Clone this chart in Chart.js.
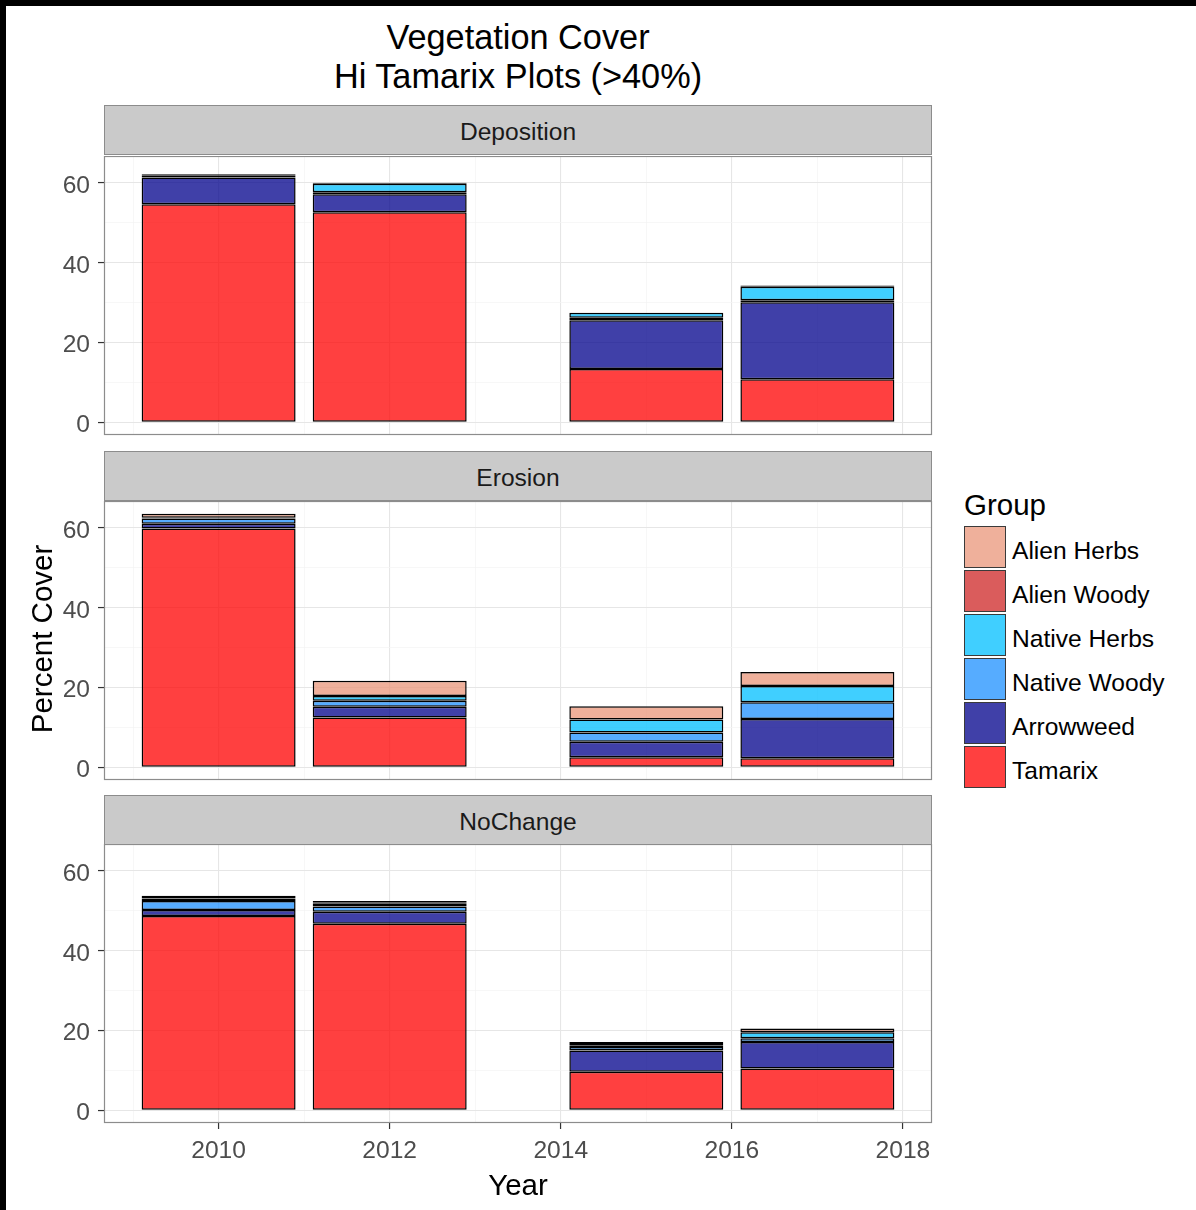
<!DOCTYPE html>
<html><head><meta charset="utf-8">
<script src="https://cdn.jsdelivr.net/npm/chart.js@4.4.0/dist/chart.umd.min.js"></script>
<style>
html,body{margin:0;padding:0;background:#fff;}
body{width:1196px;height:1210px;position:relative;overflow:hidden;font-family:"Liberation Sans",Arial,sans-serif;}
.abs{position:absolute;}
.strip{position:absolute;left:104px;width:826px;height:48px;background:#CACACA;border:1px solid #8C8C8C;color:#1A1A1A;font-size:24.6px;line-height:52px;text-align:center;}
.title{position:absolute;left:104px;width:828px;text-align:center;font-size:34.3px;color:#000;line-height:40px;}
canvas{position:absolute;left:0;}
.lkey{position:absolute;left:964px;width:40px;height:40px;border:1.5px solid #3a3a3a;}
.llab{position:absolute;left:1012px;font-size:24.6px;color:#000;line-height:30px;}
</style></head><body>
<div class="abs" style="left:0;top:0;width:1196px;height:6px;background:#000"></div>
<div class="abs" style="left:0;top:0;width:6px;height:1210px;background:#000"></div>

<div class="title" style="top:17px">Vegetation Cover</div>
<div class="title" style="top:56px">Hi Tamarix Plots (&gt;40%)</div>

<canvas id="c0" width="940" height="281" style="top:156px"></canvas>
<canvas id="c1" width="940" height="281" style="top:501px"></canvas>
<canvas id="c2" width="940" height="329" style="top:844px"></canvas>

<div id="strips"></div>
<div id="legend"></div>

<div class="abs" style="left:0;top:1168px;width:1036px;text-align:center;font-size:29.5px;line-height:34px;color:#000">Year</div>
<div class="abs" style="left:42px;top:639px;width:0;height:0;">
  <div style="position:absolute;left:-150px;top:-17px;width:300px;text-align:center;font-size:29.5px;line-height:34px;color:#000;transform:rotate(-90deg);">Percent Cover</div>
</div>

<script>
// ---- data ----
const years = [2010, 2012, 2015, 2017];
const groups = ['Tamarix', 'Arrowweed', 'Native Woody', 'Native Herbs', 'Alien Woody', 'Alien Herbs'];
const facets = ['Deposition', 'Erosion', 'NoChange'];

// Deposition
const depTamarix     = [54.7, 52.7, 13.4, 10.8];
const depArrowweed   = [6.7, 4.5, 12.2, 19.3];
const depNativeWoody = [0.4, 0.5, 0.6, 0.5];
const depNativeHerbs = [0.4, 2.1, 1.3, 3.4];
const depAlienWoody  = [0, 0, 0, 0];
const depAlienHerbs  = [0, 0.3, 0, 0.3];

// Erosion
const eroTamarix     = [59.9, 12.5, 2.5, 2.3];
const eroArrowweed   = [1.2, 2.7, 3.9, 9.8];
const eroNativeWoody = [1.3, 1.5, 2.3, 4.2];
const eroNativeHerbs = [0.2, 1.2, 3.3, 4.1];
const eroAlienWoody  = [0, 0, 0, 0];
const eroAlienHerbs  = [1.0, 3.8, 3.3, 3.5];

// NoChange
const ncTamarix     = [48.7, 46.8, 9.7, 10.5];
const ncArrowweed   = [1.5, 3.0, 5.3, 6.6];
const ncNativeWoody = [2.3, 1.3, 0.9, 1.0];
const ncNativeHerbs = [0.6, 0.7, 0.4, 1.5];
const ncAlienWoody  = [0, 0.4, 0.3, 0];
const ncAlienHerbs  = [0.7, 0.3, 0.5, 0.9];

const xMajorTicks = [2010, 2012, 2014, 2016, 2018];
const xMinorTicks = [2009, 2011, 2013, 2015, 2017];
const yMajorTicks = [0, 20, 40, 60];
const yMinorTicks = [10, 30, 50];

// ---- styles ----
const groupFills = [
  'rgba(255,0,0,0.75)',
  'rgba(0,0,139,0.75)',
  'rgba(30,144,255,0.75)',
  'rgba(0,191,255,0.75)',
  'rgba(205,38,38,0.75)',
  'rgba(233,150,122,0.75)'
];

const facetData = [
  [depTamarix, depArrowweed, depNativeWoody, depNativeHerbs, depAlienWoody, depAlienHerbs],
  [eroTamarix, eroArrowweed, eroNativeWoody, eroNativeHerbs, eroAlienWoody, eroAlienHerbs],
  [ncTamarix, ncArrowweed, ncNativeWoody, ncNativeHerbs, ncAlienWoody, ncAlienHerbs]
];

// shared scale limits (ggplot-style 5% expansion)
let maxTotal = 0;
facetData.forEach(f => years.forEach((y, j) => {
  const s = f.reduce((a, arr) => a + arr[j], 0);
  if (s > maxTotal) maxTotal = s;
}));
const yMin = -0.05 * maxTotal, yMax = 1.05 * maxTotal;
const barHalf = 0.9;
const xLo = years[0] - barHalf, xHi = years[years.length - 1] + barHalf;
const xMin = xLo - 0.05 * (xHi - xLo), xMax = xHi + 0.05 * (xHi - xLo);

const panelBorder = {
  id: 'panelBorder',
  afterDatasetsDraw(chart) {
    const {ctx, chartArea: a} = chart;
    ctx.save();
    ctx.strokeStyle = '#8C8C8C';
    ctx.lineWidth = 1.2;
    ctx.strokeRect(Math.round(a.left) + 0.5, Math.round(a.top) + 0.5, Math.round(a.right - a.left) - 1, Math.round(a.bottom - a.top) - 1);
    ctx.restore();
  }
};

const tickFont = {family: '"Liberation Sans", Arial, sans-serif', size: 24.6};

function makePanel(id, data, showX, bottomPad) {
  const ctx = document.getElementById(id).getContext('2d');
  return new Chart(ctx, {
    type: 'bar',
    data: {
      datasets: groups.map((g, i) => ({
        label: g,
        data: years.map((yr, j) => ({x: yr, y: data[i][j]})),
        backgroundColor: groupFills[i],
        borderColor: '#000',
        borderWidth: 1.5,
        borderSkipped: false,
        inflateAmount: 0,
        categoryPercentage: 0.9,
        barPercentage: 1.0,
        stack: 's'
      }))
    },
    options: {
      responsive: false,
      animation: false,
      devicePixelRatio: 1,
      layout: {padding: {left: 0, right: 8, top: 0, bottom: bottomPad}},
      plugins: {legend: {display: false}, tooltip: {enabled: false}},
      scales: {
        x: {
          type: 'linear', min: xMin, max: xMax, offset: false, stacked: true,
          grid: {offset: false, color: '#E6E6E6', lineWidth: 1.1, drawTicks: showX, tickLength: 6, tickColor: '#333', tickWidth: 1.2},
          border: {display: false},
          ticks: {display: showX, font: tickFont, color: '#4D4D4D', padding: 7, callback: v => String(v)},
          afterBuildTicks: s => { s.ticks = xMajorTicks.map(v => ({value: v})); },
          afterFit: s => { s.height = showX ? 50 : 0; s.paddingLeft = 0; s.paddingRight = 0; }
        },
        x2: {
          type: 'linear', min: xMin, max: xMax, position: 'bottom', offset: false,
          grid: {offset: false, color: '#F3F3F3', lineWidth: 0.7, drawTicks: false},
          border: {display: false},
          ticks: {display: false},
          afterBuildTicks: s => { s.ticks = xMinorTicks.map(v => ({value: v})); },
          afterFit: s => { s.height = 0; }
        },
        y: {
          type: 'linear', min: yMin, max: yMax, stacked: true,
          grid: {
            color: c => (c.tick && yMajorTicks.includes(c.tick.value)) ? '#E6E6E6' : '#F3F3F3',
            lineWidth: c => (c.tick && yMajorTicks.includes(c.tick.value)) ? 1.1 : 0.7,
            tickColor: c => (c.tick && yMajorTicks.includes(c.tick.value)) ? '#333' : 'rgba(0,0,0,0)',
            tickLength: 6, tickWidth: 1.2
          },
          border: {display: false},
          ticks: {font: tickFont, color: '#4D4D4D', padding: 8, labelOffset: 3,
            callback: v => yMajorTicks.includes(v) ? String(v) : ''},
          afterBuildTicks: s => { s.ticks = yMajorTicks.concat(yMinorTicks).sort((a, b) => a - b).map(v => ({value: v})); },
          afterFit: s => { s.width = 104; s.paddingTop = 0; s.paddingBottom = 0; }
        }
      }
    },
    plugins: [panelBorder]
  });
}

makePanel('c0', facetData[0], false, 2);
makePanel('c1', facetData[1], false, 2);
makePanel('c2', facetData[2], true, 0);

// strips
const stripTops = [105, 451, 795];
const stripsEl = document.getElementById('strips');
facets.forEach((f, i) => {
  const d = document.createElement('div');
  d.className = 'strip';
  d.style.top = stripTops[i] + 'px';
  d.textContent = f;
  stripsEl.appendChild(d);
});

// legend
const legendEl = document.getElementById('legend');
const lt = document.createElement('div');
lt.className = 'abs';
lt.style.cssText = 'left:964px;top:488px;font-size:29.5px;line-height:34px;color:#000';
lt.textContent = 'Group';
legendEl.appendChild(lt);
const order = groups.map((g, i) => i).reverse();
order.forEach((gi, k) => {
  const top = 526 + k * 44;
  const key = document.createElement('div');
  key.className = 'lkey';
  key.style.top = top + 'px';
  key.style.background = groupFills[gi];
  legendEl.appendChild(key);
  const lab = document.createElement('div');
  lab.className = 'llab';
  lab.style.top = (top + 10) + 'px';
  lab.textContent = groups[gi];
  legendEl.appendChild(lab);
});
</script>
</body></html>
